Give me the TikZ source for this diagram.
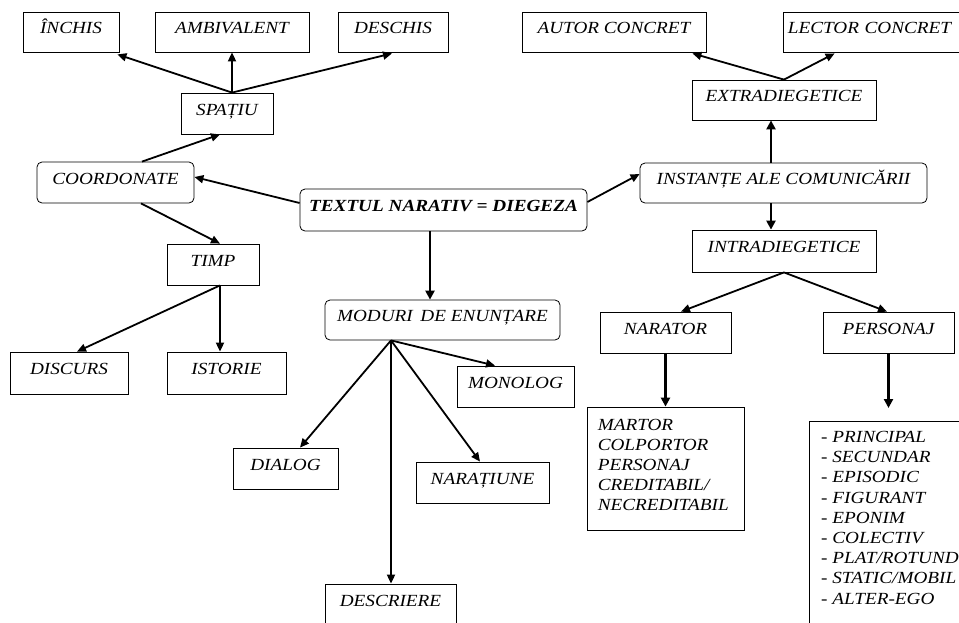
\documentclass[tikz,border=0pt]{standalone}
\usepackage{fontspec}
\setmainfont{Liberation Serif}[FakeStretch=1.13]
\usetikzlibrary{arrows.meta,calc}
\tikzset{
  box/.style={draw, line width=0.8pt, inner sep=0pt, font=\fontsize{17}{20}\selectfont\itshape,
    text height=12pt, text depth=8.5pt},
  rbox/.style={box, rounded corners=5pt},
  arr/.style={-{Triangle[length=9pt,width=8pt]}, line width=1.8pt},
  tarr/.style={-{Triangle[length=9pt,width=9pt]}, line width=2.8pt},
  listtxt/.style={font=\fontsize{17}{20.2}\selectfont\itshape, align=left, inner sep=0pt}
}
\begin{document}
\begin{tikzpicture}[x=1pt,y=-1pt]
\useasboundingbox (0,0) rectangle (959,622);
\clip (0,0) rectangle (959,622);
% top-left
\node[box, minimum width=96pt, minimum height=40pt] (inchis) at (71,32) {ÎNCHIS};
\node[box, minimum width=154pt, minimum height=40pt] (ambi) at (232,32) {AMBIVALENT};
\node[box, minimum width=110pt, minimum height=40pt] (deschis) at (393,32) {DESCHIS};
\node[box, minimum width=92pt, minimum height=41pt] (spatiu) at (227,113.5) {SPAȚIU};
% top-right
\node[box, minimum width=184pt, minimum height=40pt] (autor) at (614,32) {AUTOR CONCRET};
\node[box, minimum width=179pt, minimum height=40pt, text width=173pt, align=center] (lector) at (872.5,32) {\hspace*{-6pt}LECTOR CONCRET};
\node[box, minimum width=184pt, minimum height=40pt] (extra) at (784,100) {EXTRADIEGETICE};
% middle row
\node[rbox, minimum width=157pt, minimum height=41pt] (coord) at (115.5,182.5) {COORDONATE};
\node[rbox, minimum width=287pt, minimum height=42pt, font=\fontsize{17}{20}\selectfont\bfseries\itshape] (text) at (443.5,210) {TEXTUL NARATIV = DIEGEZA};
\node[rbox, minimum width=287pt, minimum height=40pt] (inst) at (783.5,183) {INSTANȚE ALE COMUNICĂRII};
\node[box, minimum width=184pt, minimum height=42pt] (intra) at (784,251) {INTRADIEGETICE};
\node[box, minimum width=92pt, minimum height=41pt] (timp) at (213,264.5) {TIMP};
\node[rbox, minimum width=235pt, minimum height=40pt] (moduri) at (442.5,320) {MODURI\, DE ENUNȚARE};
\node[box, minimum width=131pt, minimum height=41pt] (narator) at (665.5,332.5) {NARATOR};
\node[box, minimum width=131pt, minimum height=41pt] (personaj) at (888.5,332.5) {PERSONAJ};
% lower
\node[box, minimum width=118pt, minimum height=42pt] (discurs) at (69,373) {DISCURS};
\node[box, minimum width=119pt, minimum height=42pt] (istorie) at (226.5,373) {ISTORIE};
\node[box, minimum width=117pt, minimum height=41pt] (monolog) at (515.5,386.5) {MONOLOG};
\node[box, minimum width=105pt, minimum height=41pt] (dialog) at (285.5,468.5) {DIALOG};
\node[box, minimum width=133pt, minimum height=41pt] (naratiune) at (482.5,482.5) {NARAȚIUNE};
\node[box, minimum width=131pt, minimum height=41pt] (descriere) at (390.5,604.5) {DESCRIERE};
\node[draw, line width=0.8pt, minimum width=157pt, minimum height=123pt, inner sep=0pt] (martor) at (665.5,468.5) {};
\node[listtxt, anchor=north west] (martortxt) at ([shift={(11pt,-12pt)}]martor.north west)
  {MARTOR\\COLPORTOR\\PERSONAJ\\CREDITABIL/\\NECREDITABIL};
\node[draw, line width=0.8pt, minimum width=170pt, minimum height=230pt, inner sep=0pt, anchor=north west] (plist) at (809,421) {};
\node[listtxt, anchor=north west] (plisttxt) at ([shift={(12pt,-10pt)}]plist.north west)
  {- PRINCIPAL\\- SECUNDAR\\- EPISODIC\\- FIGURANT\\- EPONIM\\- COLECTIV\\- PLAT/ROTUND\\- STATIC/MOBIL\\- ALTER-EGO};
% connectors
\coordinate (sp) at (spatiu.north -| ambi.south);
\draw[arr] (sp) -- ([xshift=-2pt,yshift=-2pt]inchis.south east);
\draw[arr] (sp) -- (ambi.south);
\draw[arr] (sp) -- ([xshift=-1pt,yshift=-1pt]deschis.south);
\draw[arr] ([xshift=26.5pt]coord.north) -- ([xshift=-7pt]spatiu.south);
\draw[arr] ([yshift=7pt]text.west) -- ([yshift=5.5pt]coord.east);
\draw[arr] ([xshift=25.5pt]coord.south) -- ([xshift=7pt]timp.north);
\coordinate (tb) at ([xshift=7pt]timp.south);
\draw[arr] (tb) -- ([xshift=8pt]discurs.north);
\draw[arr] (tb) -- (tb |- istorie.north);
\coordinate (tx) at ([xshift=-13.5pt]text.south);
\draw[tarr] (tx) -- (tx |- moduri.north);
\draw[arr] ([yshift=8pt]text.east) -- ([yshift=9pt]inst.west);
\coordinate (in) at ([xshift=-12.5pt]inst.north);
\coordinate (is) at ([xshift=-12.5pt]inst.south);
\draw[tarr] (in) -- (in |- extra.south);
\draw[tarr] (is) -- (is |- intra.north);
\draw[arr] (extra.north) -- ([xshift=-14pt,yshift=-1pt]autor.south east);
\draw[arr] (extra.north) -- ([xshift=52pt,yshift=-1pt]lector.south west);
\draw[arr] (intra.south) -- ([xshift=15.5pt]narator.north);
\draw[arr] (intra.south) -- ([xshift=-1.5pt]personaj.north);
\coordinate (mb) at ([xshift=-51.5pt]moduri.south);
\draw[arr] (mb) -- ([xshift=-20.5pt]monolog.north);
\draw[arr] (mb) -- ([xshift=14.5pt]dialog.north);
\draw[arr] (mb) -- (mb |- descriere.north);
\draw[arr] (mb) -- ([xshift=-2.5pt]naratiune.north);
\draw[tarr] (narator.south) -- (martor.north);
\draw[tarr, shorten >=13pt] (personaj.south) -- (personaj.south |- plist.north);
\end{tikzpicture}
\end{document}
